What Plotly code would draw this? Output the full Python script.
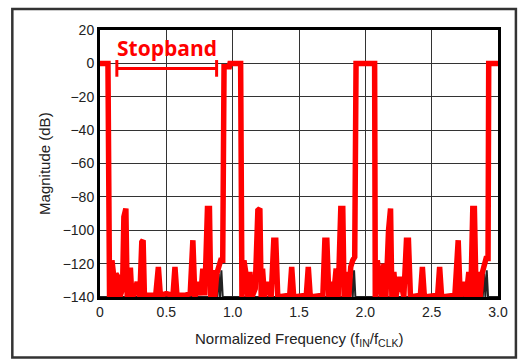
import plotly.graph_objects as go

# Red trace: normalized frequency and magnitude (dB)
freq = [
    0.0, 0.06, 0.072, 0.08, 0.09, 0.10, 0.11, 0.12, 0.135, 0.15, 0.17, 0.18, 0.195, 0.205,
    0.215, 0.23, 0.24, 0.26, 0.28, 0.30, 0.315, 0.325, 0.335, 0.36, 0.42, 0.44, 0.455,
    0.50, 0.55, 0.565, 0.58, 0.64, 0.68, 0.69, 0.70, 0.715, 0.74, 0.76, 0.775, 0.79,
    0.81, 0.825, 0.835, 0.85, 0.865, 0.88, 0.895, 0.91, 0.925, 0.935, 0.975, 0.98,
    1.06, 1.07,
    1.085, 1.10, 1.115, 1.13, 1.145, 1.17, 1.19, 1.205, 1.215, 1.225, 1.24, 1.26, 1.29,
    1.31, 1.325, 1.34, 1.43, 1.445, 1.46, 1.555, 1.57, 1.585, 1.68, 1.695, 1.71, 1.725,
    1.74, 1.76, 1.78, 1.795, 1.815, 1.83, 1.84, 1.86, 1.875, 1.89, 1.905, 1.92, 1.93,
    2.07, 2.075,
    2.09, 2.105, 2.12, 2.14, 2.155, 2.175, 2.19, 2.20, 2.215, 2.23, 2.26, 2.29, 2.31,
    2.325, 2.34, 2.415, 2.43, 2.445, 2.545, 2.56, 2.575, 2.675, 2.69, 2.70, 2.715, 2.74,
    2.76, 2.78, 2.795, 2.81, 2.822, 2.835, 2.85, 2.865, 2.88, 2.895, 2.91, 2.925, 2.93,
    3.0,
]
mag = [
    0, 0, -140, -140, -118, -125, -140, -126, -128, -140, -135, -92, -87, -140,
    -124, -124, -140, -138, -131, -140, -107, -106, -140, -139, -139, -122, -139,
    -138, -139, -122, -139, -139, -138, -106, -106, -140, -131, -139, -123, -139,
    -87, -87, -140, -124, -140, -126, -120, -118, -118, -2, -2, 0,
    0, -140,
    -118, -126, -140, -125, -140, -135, -88, -87, -140, -123, -140, -131, -140,
    -106, -106, -140, -139, -122, -140, -139, -122, -140, -139, -106, -106, -140,
    -131, -140, -123, -140, -87, -87, -140, -125, -140, -122, -118, -116, 0,
    0, -140,
    -118, -126, -140, -120, -140, -100, -87, -140, -125, -140, -128, -140, -106,
    -106, -140, -139, -122, -140, -139, -122, -140, -139, -106, -106, -140, -131,
    -140, -125, -140, -87, -87, -140, -125, -140, -126, -120, -117, -117, 0,
    0,
]

# Dark trace (mostly hidden under the red one)
black_freq = [0.0, 0.86, 0.875, 0.885, 0.895, 0.905, 0.915, 0.925, 1.0,
              1.86, 1.875, 1.885, 1.895, 1.905, 1.915, 1.925, 2.0,
              2.86, 2.875, 2.885, 2.895, 2.905, 2.915, 2.925, 3.0]
black_mag = [-140, -140, -132, -140, -126, -140, -124, -140, -140,
             -140, -131, -140, -127, -140, -124, -140, -140,
             -140, -132, -140, -126, -140, -124, -140, -140]

x_ticks = [0, 0.5, 1.0, 1.5, 2.0, 2.5, 3.0]
x_tick_text = ["0", "0.5", "1.0", "1.5", "2.0", "2.5", "3.0"]
y_ticks = [20, 0, -20, -40, -60, -80, -100, -120, -140]
y_tick_text = ["20", "0", "\u221220", "\u221240", "\u221260", "\u221280",
               "\u2212100", "\u2212120", "\u2212140"]

stopband = [0.127, 0.879]
stopband_level = -3

fig = go.Figure()
fig.add_trace(go.Scatter(x=black_freq, y=black_mag, mode="lines",
                         line=dict(color="#222222", width=2), showlegend=False))
fig.add_trace(go.Scatter(x=freq, y=mag, mode="lines",
                         line=dict(color="#ff0000", width=5.5), showlegend=False))

font_family = "Liberation Sans, Arial, sans-serif"

fig.update_layout(
    width=520, height=359,
    margin=dict(l=100, r=16, t=30, b=62),
    paper_bgcolor="white", plot_bgcolor="white",
    font=dict(family=font_family, size=13, color="#222222"),
    xaxis=dict(range=[0, 3], tickvals=x_ticks, ticktext=x_tick_text,
               showgrid=True, gridcolor="#333333", gridwidth=1,
               showline=True, linecolor="black", linewidth=3, mirror=True,
               zeroline=False, ticks="", tickfont=dict(size=14)),
    yaxis=dict(range=[-140, 20], tickvals=y_ticks, ticktext=y_tick_text,
               showgrid=True, gridcolor="#333333", gridwidth=1,
               showline=True, linecolor="black", linewidth=3, mirror=True,
               zeroline=False, ticks="", tickfont=dict(size=14)),
)

# Outer frame
fig.add_shape(type="rect", xref="paper", yref="paper",
              x0=-0.2203, x1=1.045, y0=-0.2266, y1=1.0787,
              line=dict(color="#333333", width=2.5), layer="below")

# Stopband marker
fig.add_shape(type="line", xref="x", yref="y", x0=stopband[0], x1=stopband[1],
              y0=stopband_level, y1=stopband_level, line=dict(color="#ff0000", width=3))
for sx in stopband:
    fig.add_shape(type="line", xref="x", yref="y", x0=sx, x1=sx,
                  y0=stopband_level + 5, y1=stopband_level - 5,
                  line=dict(color="#ff0000", width=3))
fig.add_annotation(x=sum(stopband) / 2, y=9.5, xref="x", yref="y", showarrow=False,
                   text="<b>Stopband</b>",
                   font=dict(family="Open Sans, sans-serif", size=21, color="#ff0000"))

# Axis titles
fig.add_annotation(x=-0.166, y=0.5, xref="paper", yref="paper", showarrow=False,
                   text="Magnitude (dB)", textangle=-90,
                   font=dict(size=15, color="#222222"))
fig.add_annotation(x=0.5, y=-0.16, xref="paper", yref="paper", showarrow=False,
                   yanchor="middle",
                   text="Normalized Frequency (f<sub>IN</sub>/f<sub>CLK</sub>)",
                   font=dict(size=15, color="#222222"))

fig.write_html("out.html")
